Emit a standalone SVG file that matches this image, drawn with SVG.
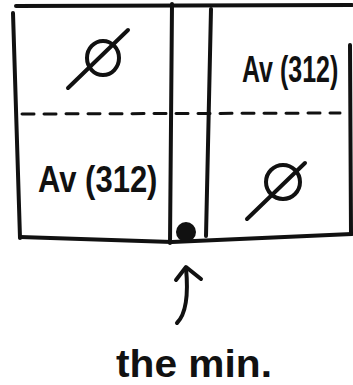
<svg xmlns="http://www.w3.org/2000/svg" width="353" height="385" viewBox="0 0 353 385">
<style>
.l{stroke:#111;stroke-width:4;fill:none;stroke-linecap:round;stroke-linejoin:round}
.t{font-family:"Liberation Sans",Arial,sans-serif;font-weight:bold;fill:#111}
</style>
<rect width="353" height="385" fill="#fff"/>
<g id="frame">
<path class="l" d="M16 6 L352 5"/>
<path class="l" d="M13 13 L20 238"/>
<path class="l" d="M20 237 L172 242 L352 234"/>
<path class="l" d="M350 45 L351 234"/>
<path class="l" d="M172 4 L170 243"/>
<path class="l" d="M211 9 L206 236"/>
<path class="l" d="M22 114 L340 113" stroke-dasharray="12 10" style="stroke-width:3"/>
</g>
<g id="topleft">
<ellipse cx="103" cy="58" rx="16" ry="17" class="l"/>
<path class="l" d="M68 88 L128 30"/>
</g>
<g id="topright"><text class="t" transform="translate(242,82) scale(1,1.45)" font-size="25">Av (312)</text></g>
<g id="bottomleft"><text class="t" transform="translate(38,192) scale(1,1.2)" font-size="31">Av (312)</text></g>
<g id="bottomright">
<ellipse cx="283" cy="182" rx="17" ry="17" class="l"/>
<path class="l" d="M247 219 L305 163"/>
</g>
<g id="dot"><circle cx="186" cy="232" r="10" fill="#111"/></g>
<g id="connectors">
<path class="l" d="M177 323 Q190 310 186 268"/>
<path class="l" d="M176 280 L186 267 L201 279"/>
</g>
<g id="label"><text class="t" x="116" y="377" font-size="38" textLength="156" lengthAdjust="spacingAndGlyphs">the min.</text></g>
</svg>
